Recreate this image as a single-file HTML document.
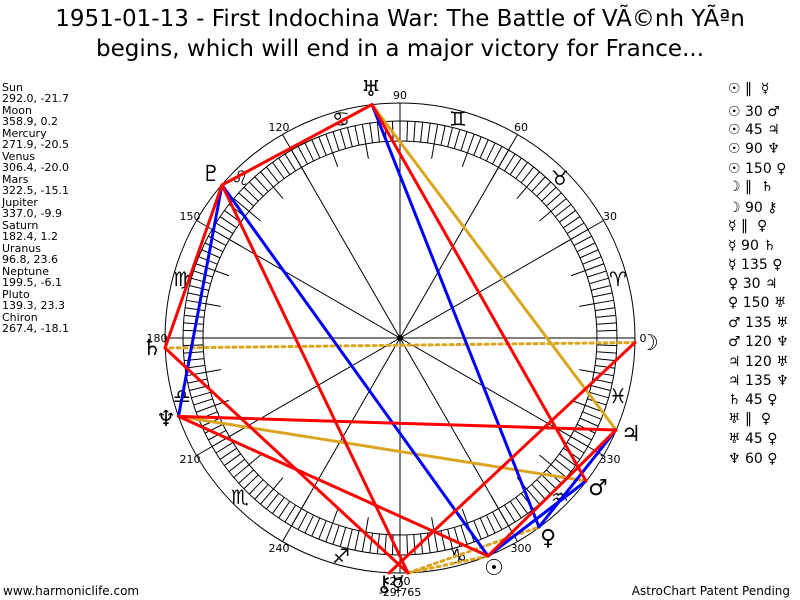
<!DOCTYPE html>
<html><head><meta charset="utf-8"><style>
body{margin:0;background:#fff;width:800px;height:600px;overflow:hidden;font-family:"Liberation Sans","DejaVu Sans",sans-serif}
svg{position:absolute;left:0;top:0}
</style></head><body>
<svg width="800" height="600" viewBox="0 0 800 600" xmlns="http://www.w3.org/2000/svg">
<text x="400" y="26" font-size="23" text-anchor="middle" font-family="DejaVu Sans, sans-serif">1951-01-13 - First Indochina War: The Battle of VÃ©nh YÃªn</text>
<text x="400" y="56" font-size="23" text-anchor="middle" font-family="DejaVu Sans, sans-serif">begins, which will end in a major victory for France...</text>
<g font-size="11" font-family="DejaVu Sans, sans-serif">
<text x="2" y="91">Sun</text><text x="2" y="102">292.0, -21.7</text>
<text x="2" y="114">Moon</text><text x="2" y="125">358.9, 0.2</text>
<text x="2" y="137">Mercury</text><text x="2" y="148">271.9, -20.5</text>
<text x="2" y="160">Venus</text><text x="2" y="171">306.4, -20.0</text>
<text x="2" y="183">Mars</text><text x="2" y="194">322.5, -15.1</text>
<text x="2" y="206">Jupiter</text><text x="2" y="217">337.0, -9.9</text>
<text x="2" y="229">Saturn</text><text x="2" y="240">182.4, 1.2</text>
<text x="2" y="252">Uranus</text><text x="2" y="263">96.8, 23.6</text>
<text x="2" y="275">Neptune</text><text x="2" y="286">199.5, -6.1</text>
<text x="2" y="298">Pluto</text><text x="2" y="309">139.3, 23.3</text>
<text x="2" y="321">Chiron</text><text x="2" y="332">267.4, -18.1</text>
</g>
<g font-size="14" font-family="DejaVu Sans, sans-serif">
<text x="728" y="93">☉ ‖ &#160;☿</text>
<text x="728" y="116">☉ 30 ♂</text>
<text x="728" y="134">☉ 45 ♃</text>
<text x="728" y="153">☉ 90 ♆</text>
<text x="728" y="173">☉ 150 ♀</text>
<text x="728" y="191">☽ ‖ &#160;♄</text>
<text x="728" y="212">☽ 90 ⚷</text>
<text x="728" y="230">☿ ‖ &#160;♀</text>
<text x="728" y="250">☿ 90 ♄</text>
<text x="728" y="269">☿ 135 ♀</text>
<text x="728" y="288">♀ 30 ♃</text>
<text x="728" y="307">♀ 150 ♅</text>
<text x="728" y="327">♂ 135 ♅</text>
<text x="728" y="346">♂ 120 ♆</text>
<text x="728" y="366">♃ 120 ♅</text>
<text x="728" y="385">♃ 135 ♆</text>
<text x="728" y="404">♄ 45 ♀</text>
<text x="728" y="423">♅ ‖ &#160;♀</text>
<text x="728" y="443">♅ 45 ♀</text>
<text x="728" y="463">♆ 60 ♀</text>
</g>
<text x="3" y="595" font-size="12" font-family="DejaVu Sans, sans-serif">www.harmoniclife.com</text>
<text x="790" y="595" font-size="12" text-anchor="end" font-family="DejaVu Sans, sans-serif">AstroChart Patent Pending</text>

<g fill="none" stroke="#000" stroke-width="1">
<circle cx="400" cy="338" r="235"/>
<circle cx="400" cy="338" r="217"/>
<circle cx="400" cy="338" r="197"/>
<g id="ticks"></g>
<line x1="165" y1="338" x2="635" y2="338"/>
<line x1="400" y1="103" x2="400" y2="573"/>
<line x1="196.5" y1="220.5" x2="603.5" y2="455.5"/>
<line x1="196.5" y1="455.5" x2="603.5" y2="220.5"/>
<line x1="282.5" y1="134.5" x2="517.5" y2="541.5"/>
<line x1="282.5" y1="541.5" x2="517.5" y2="134.5"/>
</g>
<circle cx="400" cy="338" r="3" fill="#000"/>

<g font-size="11" text-anchor="middle" font-family="DejaVu Sans, sans-serif">
<text x="643" y="342">0</text><text x="610" y="220">30</text><text x="521" y="131">60</text>
<text x="400" y="99">90</text><text x="279" y="131">120</text><text x="190" y="220">150</text>
<text x="157" y="342">180</text><text x="190" y="463">210</text><text x="279" y="552">240</text>
<text x="400" y="585">270</text><text x="521" y="552">300</text><text x="610" y="463">330</text>
<text x="400" y="596">-29,765</text>
</g>
<g font-size="20" text-anchor="middle" font-family="DejaVu Sans, sans-serif">
<text x="618" y="286">♈</text><text x="560" y="185">♉</text><text x="458" y="126">♊</text>
<text x="341" y="126">♋</text><text x="240" y="185">♌</text><text x="182" y="286">♍</text>
<text x="182" y="403">♎</text><text x="240" y="504">♏</text><text x="341" y="563">♐</text>
<text x="458" y="563">♑</text><text x="560" y="504">♒</text><text x="618" y="403">♓</text>
</g>

<g stroke-width="3" fill="none" stroke-linecap="round">
<g stroke="#daa520" stroke-dasharray="3,4">
<line x1="488" y1="556" x2="408" y2="573"/>
<line x1="635" y1="342.5" x2="165" y2="348"/>
<line x1="408" y1="573" x2="539" y2="527"/>
<line x1="372" y1="104.6" x2="222" y2="185"/>
</g>
<g stroke="#daa520">
<line x1="586" y1="481" x2="178.5" y2="416.4"/>
<line x1="616" y1="430" x2="372" y2="104.6"/>
</g>
<g stroke="#0000ff">
<line x1="488" y1="556" x2="586" y2="481"/>
<line x1="488" y1="556" x2="222" y2="185"/>
<line x1="539" y1="527" x2="616" y2="430"/>
<line x1="539" y1="527" x2="372" y2="104.6"/>
<line x1="178.5" y1="416.4" x2="222" y2="185"/>
</g>
<g stroke="#ff0000">
<line x1="488" y1="556" x2="178.5" y2="416.4"/>
<line x1="488" y1="556" x2="616" y2="430"/>
<line x1="635" y1="342.5" x2="389" y2="573"/>
<line x1="408" y1="573" x2="222" y2="185"/>
<line x1="408" y1="573" x2="165" y2="348"/>
<line x1="586" y1="481" x2="372" y2="104.6"/>
<line x1="616" y1="430" x2="178.5" y2="416.4"/>
<line x1="165" y1="348" x2="222" y2="185"/>
<line x1="372" y1="104.6" x2="222" y2="185"/>
</g>
</g>

<g font-size="22" text-anchor="middle" font-family="DejaVu Sans, sans-serif">
<text x="494" y="575" font-weight="bold">☉</text><text x="649" y="350">☽</text><text x="398" y="591">☿</text>
<text x="548" y="545">♀</text><text x="598" y="495">♂</text><text x="631" y="441">♃</text>
<text x="152" y="355">♄</text><text x="371" y="96">♅</text><text x="166" y="426">♆</text>
<text x="211" y="181">♇</text><text x="384" y="591">⚷</text>
</g>
</svg>
<script>
(function(){
var g=document.getElementById('ticks'),s='';
for(var a=0;a<360;a+=2){var r=a*Math.PI/180,c=Math.cos(r),n=Math.sin(r);
s+='<line x1="'+(400+197*c)+'" y1="'+(338-197*n)+'" x2="'+(400+217*c)+'" y2="'+(338-217*n)+'"/>';}
for(var a=0;a<360;a+=10){var r=a*Math.PI/180,c=Math.cos(r),n=Math.sin(r);
s+='<line x1="'+(400+182*c)+'" y1="'+(338-182*n)+'" x2="'+(400+197*c)+'" y2="'+(338-197*n)+'"/>';}
g.innerHTML=s;})();
</script>
</body></html>
